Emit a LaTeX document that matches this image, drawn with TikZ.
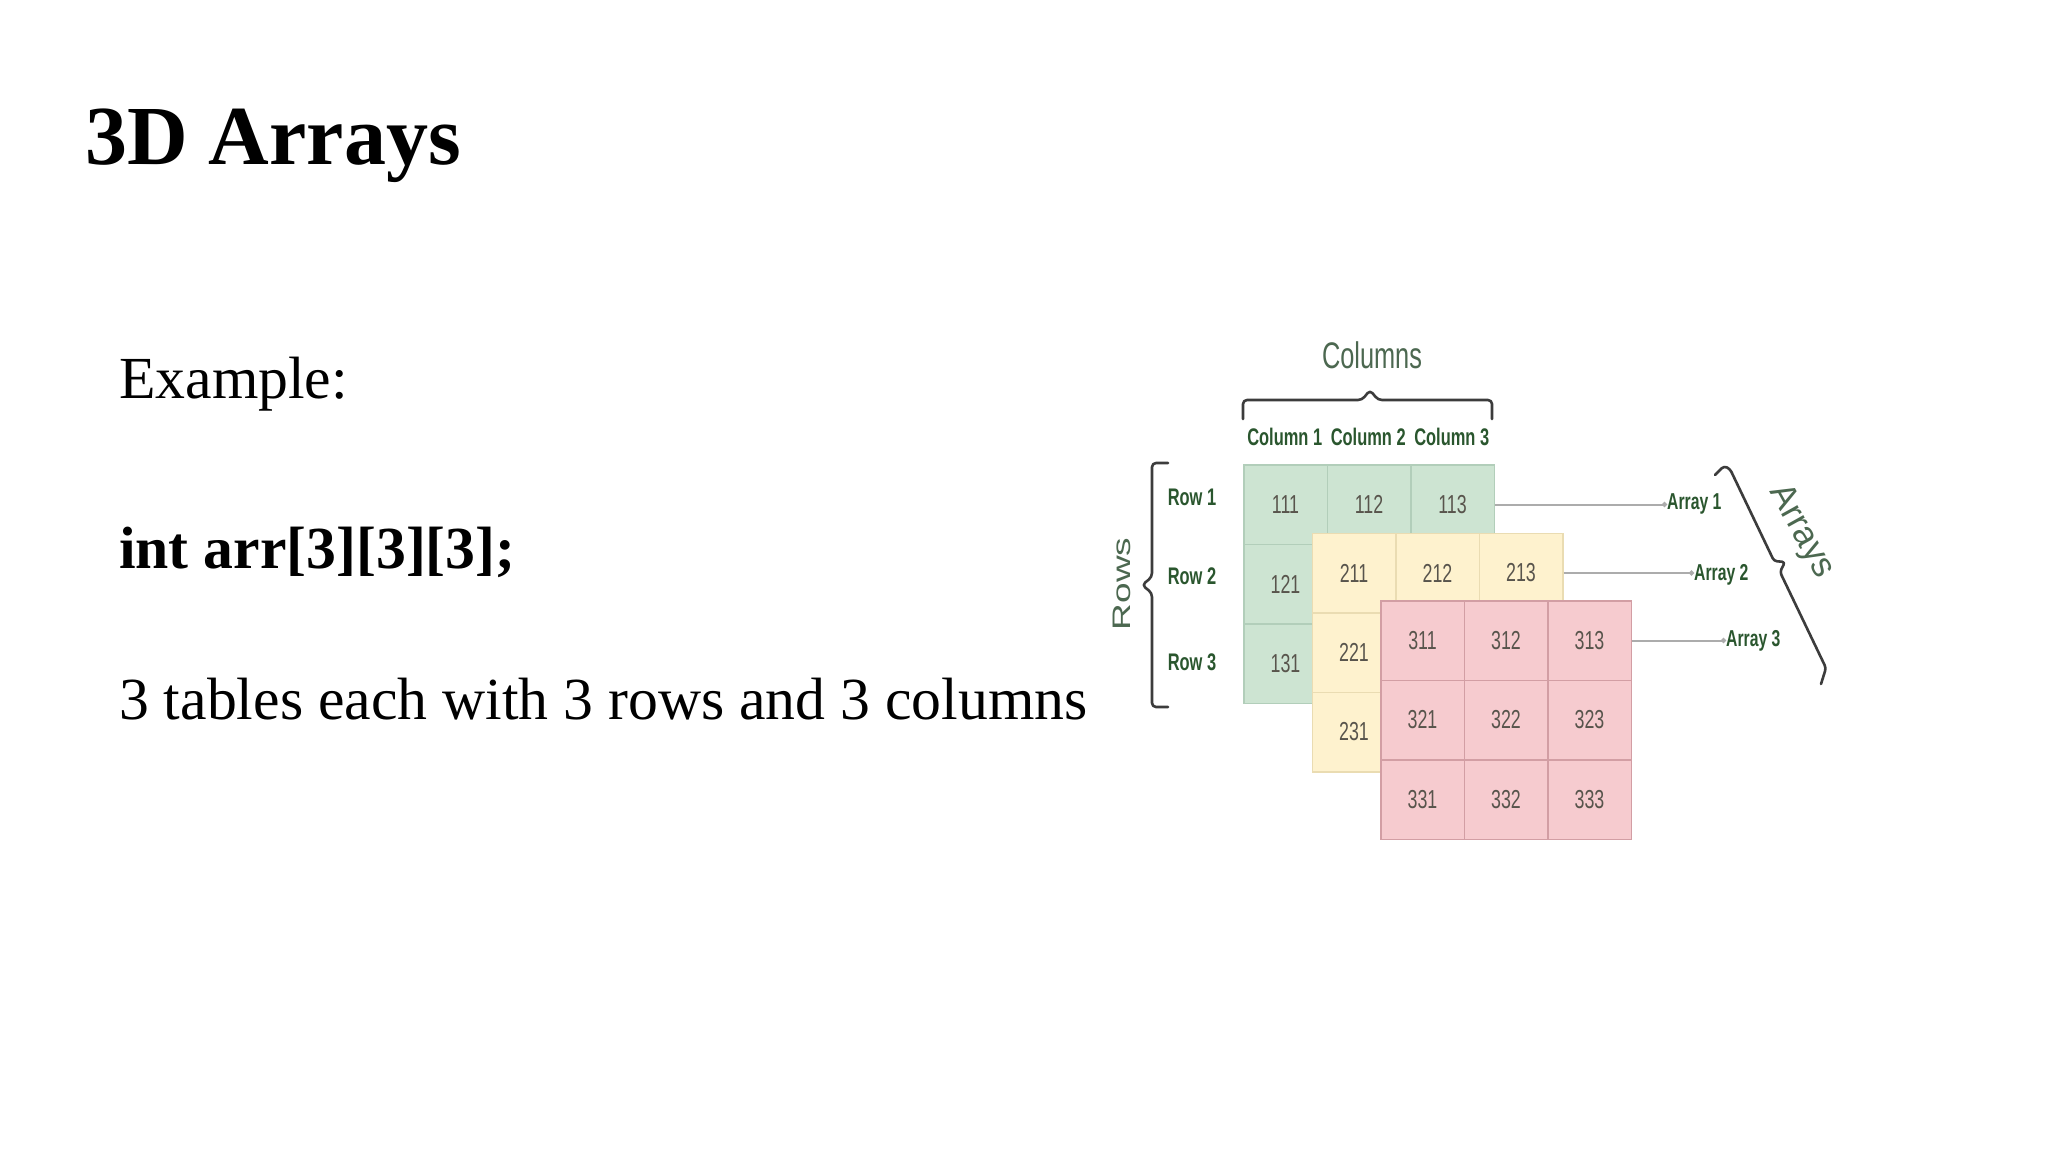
\documentclass[tikz,border=0pt]{standalone}
\usepackage{graphicx}
\usepackage{fontspec}
\setmainfont{Liberation Serif}
\newfontfamily\dfont{Liberation Sans}
\usetikzlibrary{arrows.meta}
\definecolor{gfill}{RGB}{205,228,210}
\definecolor{gline}{RGB}{178,206,186}
\definecolor{yfill}{RGB}{254,242,206}
\definecolor{yline}{RGB}{234,220,178}
\definecolor{rfill}{RGB}{246,203,207}
\definecolor{rline}{RGB}{210,158,164}
\definecolor{lblgreen}{RGB}{42,86,46}
\definecolor{hdgreen}{RGB}{76,104,80}
\definecolor{numgray}{RGB}{88,84,76}
\definecolor{bracegray}{RGB}{60,60,60}
\definecolor{conngray}{RGB}{172,172,172}
\newcommand\sq[1]{\scalebox{0.685}[1]{#1}}
\newcommand\mycellnum[3]{\ifnum#2=1 \sq{#1#2#3}\else\ifnum#3=1 \sq{#1#2#3}\fi\fi}
\begin{document}
\begin{tikzpicture}[x=1pt,y=-1pt,
  cellbase/.style={draw, line width=1.5pt, minimum width=83.5pt, minimum height=79.5pt,
    inner sep=0pt, anchor=north west, font=\dfont\fontsize{26}{26}\selectfont, text=numgray},
  gcell/.style={cellbase, fill=gfill, draw=gline},
  ycell/.style={cellbase, fill=yfill, draw=yline},
  rcell/.style={cellbase, fill=rfill, draw=rline},
  bigtext/.style={anchor=base west, inner sep=0pt, font=\fontsize{59.7}{60}\selectfont},
  hdlabel/.style={font=\dfont\fontsize{37}{37}\selectfont, text=hdgreen, inner sep=0pt},
  smlabel/.style={font=\dfont\bfseries\fontsize{24}{24}\selectfont, text=lblgreen, inner sep=0pt},
  arrlabel/.style={font=\dfont\bfseries\fontsize{23}{23}\selectfont, text=lblgreen, inner sep=0pt, anchor=west},
  bracestyle/.style={draw=bracegray, line width=2.6pt, line cap=round, line join=round},
  conn/.style={draw=conngray, line width=2pt, -{Circle[length=5pt, fill=bracegray!70]}}
]
\useasboundingbox[fill=white] (0,0) rectangle (2048,1152);

% left text
\node[anchor=base west, inner sep=0pt, font=\bfseries\fontsize{84}{84}\selectfont] (title) at (85,164) {3D Arrays};
\node[bigtext] (example) at (119,398) {Example:};
\node[bigtext, font=\bfseries\fontsize{59.7}{60}\selectfont] (decl) at (119,568) {int arr[3][3][3];};
\node[bigtext] (desc) at (119,719) {3 tables each with 3 rows and 3 columns};

% array 1 (green)
\foreach \r in {1,2,3}{\foreach \c in {1,2,3}{
  \node[gcell] (g-\r-\c) at ({1243+(\c-1)*83.5},{464+(\r-1)*79.5}) {\mycellnum{1}{\r}{\c}};
}}
% array 2 (yellow)
\foreach \r in {1,2,3}{\foreach \c in {1,2,3}{
  \node[ycell] (y-\r-\c) at ({1311.5+(\c-1)*83.5},{532.5+(\r-1)*79.5}) {\mycellnum{2}{\r}{\c}};
}}
% array 3 (red)
\foreach \r in {1,2,3}{\foreach \c in {1,2,3}{
  \node[rcell] (r-\r-\c) at ({1380+(\c-1)*83.5},{600+(\r-1)*79.5}) {\sq{3\r\c}};
}}

% column labels
\node[smlabel] (col1) at (1284.75,437) {\sq{Column 1}};
\node[smlabel] (col2) at (1368.25,437) {\sq{Column 2}};
\node[smlabel] (col3) at (1451.75,437) {\sq{Column 3}};
\node[hdlabel, anchor=base] (columns) at (1372,368) {\sq{Columns}};

% row labels
\node[smlabel] (row1) at (1192,497) {\sq{Row 1}};
\node[smlabel] (row2) at (1192,576) {\sq{Row 2}};
\node[smlabel] (row3) at (1192,662) {\sq{Row 3}};
\node[hdlabel, rotate=90] (rows) at (1122,584) {\scalebox{1}[0.685]{Rows}};

% array labels and connectors
\node[arrlabel, xscale=0.685] (arr1) at (1667,504) {Array 1};
\node[arrlabel, xscale=0.685] (arr2) at (1694,575) {Array 2};
\node[arrlabel, xscale=0.685] (arr3) at (1726,641) {Array 3};
\draw[conn] (g-1-3.east) -- (g-1-3.east -| arr1.west);
\draw[conn] (y-1-3.east) -- (y-1-3.east -| arr2.west);
\draw[conn] (r-1-3.east) -- (r-1-3.east -| arr3.west);
\node[hdlabel, font=\dfont\fontsize{35}{35}\selectfont, rotate=-61] (arrays) at (1801,532) {Arrays};

% braces
\draw[bracestyle, rounded corners=4pt] (1243,419) -- (1243,400) -- (1362,400) -- (1370,390) -- (1378,400) -- (1492,400) -- (1492,419);
\draw[bracestyle, rounded corners=4pt] (1168,463) -- (1152,463) -- (1152,577) -- (1142,585) -- (1152,593) -- (1152,707) -- (1168,707);
\draw[bracestyle, rounded corners=3pt] (1715,475) -- (1724,466) -- (1730,469) -- (1774,561) -- (1785,562) -- (1780,572) -- (1826,668) -- (1821,684);
\end{tikzpicture}
\end{document}
